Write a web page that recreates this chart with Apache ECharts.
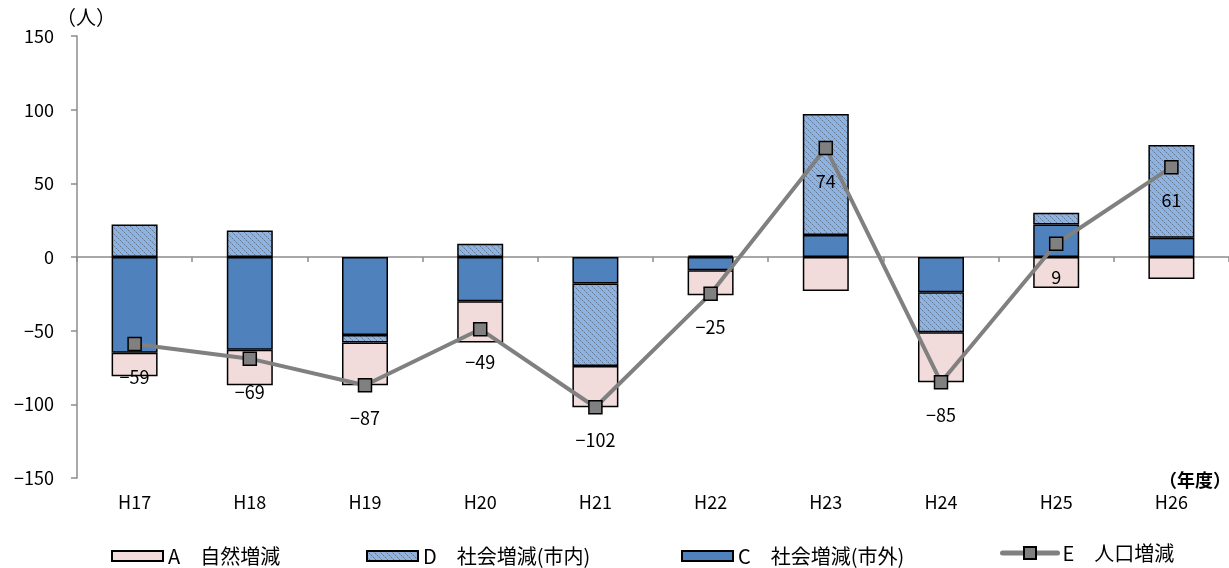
<!DOCTYPE html>
<html><head><meta charset="utf-8">
<script src="https://cdn.jsdelivr.net/npm/echarts@6/dist/echarts.min.js"></script>
<style>html,body{margin:0;padding:0;background:#fff}#c{width:1229px;height:568px}</style>
</head><body><div id="c"></div>
<script>
const categories = ['H17','H18','H19','H20','H21','H22','H23','H24','H25','H26'];
const natural = [-16,-24,-29,-28,-28,-17,-23,-34,-21,-15];      // A 自然増減
const socialIn = [22,18,-5,9,-56,1,82,-27,8,63];                // D 社会増減(市内)
const socialOut = [-65,-63,-53,-30,-18,-9,15,-24,22,13];        // C 社会増減(市外)
const total = [-59,-69,-87,-49,-102,-25,74,-85,9,61];           // E 人口増減
const yTicks = {min:-150, max:150, interval:50};

const FONT = '"Noto Sans CJK JP", "Noto Sans", sans-serif';
function hatch(){
  const c = document.createElement('canvas'); c.width = 6; c.height = 6;
  const g = c.getContext('2d');
  g.fillStyle = '#8DB3E2'; g.fillRect(0,0,6,6);
  for (let i=0;i<6;i++){ g.fillStyle = (i%2===0) ? '#66768C' : '#8A9AAE'; g.fillRect(i,i,1,1); }
  return c;
}
const minus = v => String(v).replace('-', '−');
const chart = echarts.init(document.getElementById('c'));
const barBase = {type:'bar', stack:'s', barWidth:46, xAxisIndex:0};
const legendBase = {top:546, padding:0, itemWidth:51, itemHeight:10, icon:'rect', itemGap:7,
  textStyle:{fontFamily:FONT, fontSize:20, color:'#000'}};
chart.setOption({
  animation:false,
  textStyle:{fontFamily:FONT},
  grid:{left:77, right:-3, top:36, bottom:90},
  legend:[
    Object.assign({}, legendBase, {left:111, data:['A　自然増減']}),
    Object.assign({}, legendBase, {left:366, data:['D　社会増減(市内)']}),
    Object.assign({}, legendBase, {left:681, data:['C　社会増減(市外)']}),
    Object.assign({}, legendBase, {left:1000, top:543, itemWidth:55, itemHeight:15, icon:null,
      lineStyle:{width:5, cap:'round'}, data:['E　人口増減']})
  ],
  xAxis:[
    {type:'category', data:categories, axisLine:{onZero:true, lineStyle:{color:'#8C8C8C', width:1.5}},
     axisTick:{show:true, length:5, lineStyle:{color:'#8C8C8C', width:1.5}}, axisLabel:{show:false}},
    {type:'category', data:categories, position:'bottom', axisLine:{show:false, onZero:false}, axisTick:{show:false},
     axisLabel:{margin:15, fontSize:18, color:'#000', fontFamily:FONT}}
  ],
  yAxis:{type:'value', min:yTicks.min, max:yTicks.max, interval:yTicks.interval,
    name:'（人）', nameLocation:'end', nameGap:8,
    nameTextStyle:{fontSize:20, color:'#000', align:'left', verticalAlign:'middle', padding:[0,0,0,-21], fontFamily:FONT},
    splitLine:{show:false},
    axisLine:{show:true, lineStyle:{color:'#8C8C8C', width:1.5}},
    axisTick:{show:true, length:6, lineStyle:{color:'#8C8C8C', width:1.5}},
    axisLabel:{margin:23, fontSize:18, color:'#000', fontFamily:FONT, formatter:minus}},
  series:[
    Object.assign({}, barBase, {name:'C　社会増減(市外)', data:socialOut, itemStyle:{color:'#4F81BD', borderColor:'#000', borderWidth:1.5}}),
    Object.assign({}, barBase, {name:'D　社会増減(市内)', data:socialIn, itemStyle:{color:{image:hatch(), repeat:'repeat'}, borderColor:'#000', borderWidth:1.5}}),
    Object.assign({}, barBase, {name:'A　自然増減', data:natural, itemStyle:{color:'#F2DCDB', borderColor:'#000', borderWidth:1.5}}),
    {type:'line', name:'E　人口増減', data:total, xAxisIndex:0, z:5,
     symbol:'rect', symbolSize:13, lineStyle:{color:'#808080', width:4},
     itemStyle:{color:'#808080', borderColor:'#000', borderWidth:1.5},
     label:{show:true, position:'bottom', distance:17, fontSize:18, color:'#000', fontFamily:FONT, formatter:p=>minus(p.value)}}
  ],
  graphic:[{type:'text', left:1159, top:471, style:{text:'（年度）', font:'bold 18px '+FONT, fill:'#000'}}]
});
</script></body></html>
